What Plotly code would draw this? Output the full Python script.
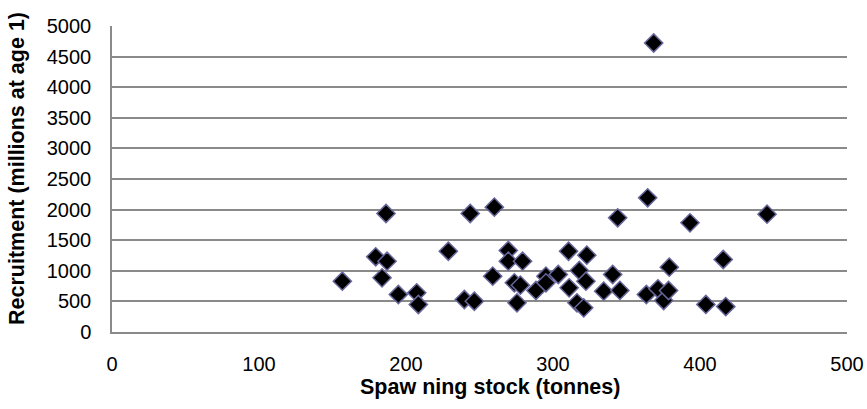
import plotly.graph_objects as go

spawning_stock = [156.7, 179.4, 183.7, 186.4, 187.1, 194.8, 207.3, 208.4, 228.8, 239.7,
                  243.7, 246.5, 259.0, 260.1, 269.6, 269.6, 279.3, 273.7, 277.8, 275.5,
                  288.4, 295.2, 295.2, 303.6, 310.6, 311.0, 317.9, 316.3, 320.9, 322.4,
                  323.0, 334.5, 340.6, 344.0, 345.5, 363.5, 364.4, 368.5, 371.4, 375.3,
                  378.6, 379.1, 393.2, 404.0, 415.8, 417.5, 445.6]
recruitment = [830, 1229, 885, 1936, 1157, 613, 640, 449, 1320, 531,
               1936, 503, 912, 2040, 1332, 1157, 1157, 804, 765, 477,
               678, 912, 804, 940, 1320, 722, 1005, 477, 395, 830,
               1255, 667, 940, 1866, 680, 613, 2193, 4722, 706, 515,
               678, 1059, 1784, 450, 1185, 415, 1925]

x_ticks = [0, 100, 200, 300, 400, 500]
y_ticks = [0, 500, 1000, 1500, 2000, 2500, 3000, 3500, 4000, 4500, 5000]

x_title = "Spaw ning stock (tonnes)"
y_title = "Recruitment (millions at age 1)"

FONT = "Liberation Sans, Arial, sans-serif"
GRID = "#8a8a8a"

fig = go.Figure(go.Scatter(
    x=spawning_stock, y=recruitment, mode="markers",
    marker=dict(symbol="diamond", size=14, color="black",
                line=dict(color="#66669a", width=1.5)),
    showlegend=False, hoverinfo="x+y"))

fig.update_layout(
    width=867, height=409,
    margin=dict(l=111.7, r=20.3, t=25.7, b=77.3),
    paper_bgcolor="white", plot_bgcolor="white",
    font=dict(family=FONT, size=20, color="black"),
)
fig.update_xaxes(range=[0, 500], tickvals=x_ticks, showgrid=False, zeroline=False,
                 showline=True, linecolor=GRID, linewidth=1.5, ticks="",
                 ticklabelstandoff=13, tickfont=dict(size=20), automargin=False)
fig.update_yaxes(range=[0, 5000], tickvals=y_ticks, showgrid=True, gridcolor=GRID,
                 gridwidth=1.5, zeroline=False, showline=True, linecolor=GRID,
                 linewidth=1.5, ticks="", ticklabelstandoff=15, tickfont=dict(size=20),
                 automargin=False)

fig.add_annotation(text="<b>" + x_title + "</b>", xref="paper", yref="paper",
                   x=0.5, y=0, xshift=10, yshift=-54.5, xanchor="center", yanchor="middle",
                   showarrow=False, font=dict(size=21.5, family=FONT, color="black"))
fig.add_annotation(text="<b>" + y_title + "</b>", xref="paper", yref="paper",
                   x=0, y=0.5, xshift=-95, yshift=10, xanchor="center", yanchor="middle",
                   textangle=-90, showarrow=False,
                   font=dict(size=21.5, family=FONT, color="black"))

# remove the page's default 8px body margin so the figure fills the window exactly
fig.write_html("out.html", config={"displayModeBar": False},
               post_script="document.body.style.margin='0';")
